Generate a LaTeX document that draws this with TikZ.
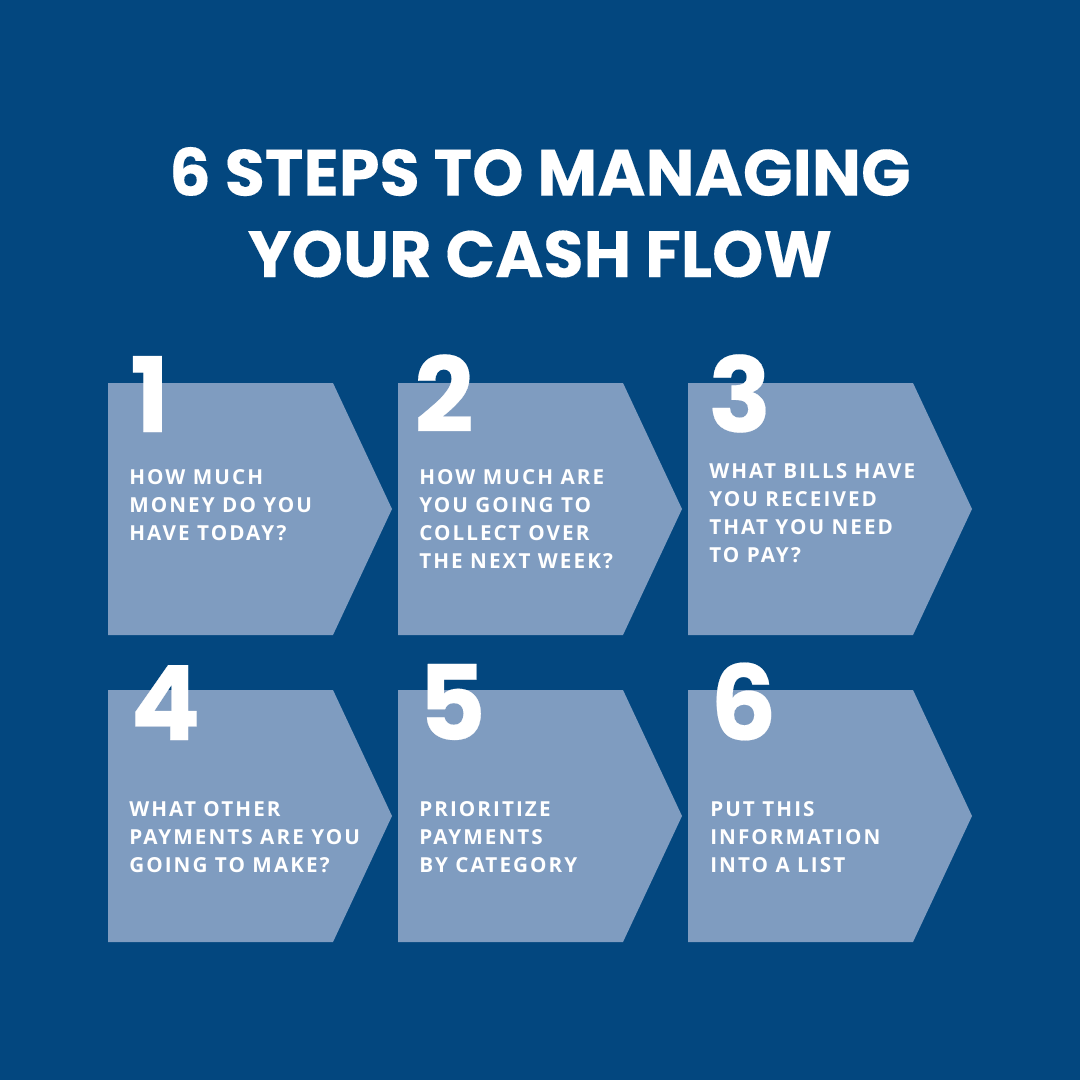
\documentclass[tikz,border=0pt]{standalone}
\usepackage{fontspec}
\newfontfamily\titlefont{Poppins}[FakeBold=0.2]
\newfontfamily\bodyfont{Open Sans}[LetterSpace=10]
\definecolor{bg}{HTML}{03477F}
\definecolor{chev}{HTML}{7F9CC0}
\begin{document}
\begin{tikzpicture}[x=0.75pt,y=-0.75pt,
  chevbox/.style={fill=chev},
  num/.style={text=white,font=\titlefont\bfseries\fontsize{78}{78}\selectfont,anchor=base west,inner sep=0},
  body/.style={text=white,font=\bodyfont\bfseries\fontsize{15.5}{21}\selectfont,anchor=north west,inner sep=0,align=left},
  ttl/.style={text=white,font=\titlefont\bfseries\fontsize{49}{61}\selectfont,align=center,inner sep=0}]
\fill[bg] (0,0) rectangle (1080,1080);
\useasboundingbox (0,0) rectangle (1080,1080);
\node[ttl,anchor=base] (title) at (540,277) {6 STEPS TO MANAGING\\YOUR CASH FLOW};
\foreach \i/\x/\y in {1/108/383,2/398/383,3/688/383,4/108/690,5/398/690,6/688/690}{
  \fill[chevbox] (\x,\y) -- ++(225,0) -- ++(59,126) -- ++(-59,126) -- ++(-225,0) -- cycle;
}
\node[num] (n1) at (130,432) {1};
\node[num] (n2) at (414,432) {2};
\node[num] (n3) at (708,432) {3};
\node[num] (n4) at (130,740) {4};
\node[num] (n5) at (418,740) {5};
\node[num] (n6) at (710,740) {6};
\node[body] (t1) at (129,469) {HOW MUCH\\MONEY DO YOU\\HAVE TODAY?};
\node[body] (t2) at (419,469) {HOW MUCH ARE\\YOU GOING TO\\COLLECT OVER\\THE NEXT WEEK?};
\node[body] (t3) at (709,463) {WHAT BILLS HAVE\\YOU RECEIVED\\THAT YOU NEED\\TO PAY?};
\node[body] (t4) at (129,801) {WHAT OTHER\\PAYMENTS ARE YOU\\GOING TO MAKE?};
\node[body] (t5) at (419,801) {PRIORITIZE\\PAYMENTS\\BY CATEGORY};
\node[body] (t6) at (710,801) {PUT THIS\\INFORMATION\\INTO A LIST};
\end{tikzpicture}
\end{document}
